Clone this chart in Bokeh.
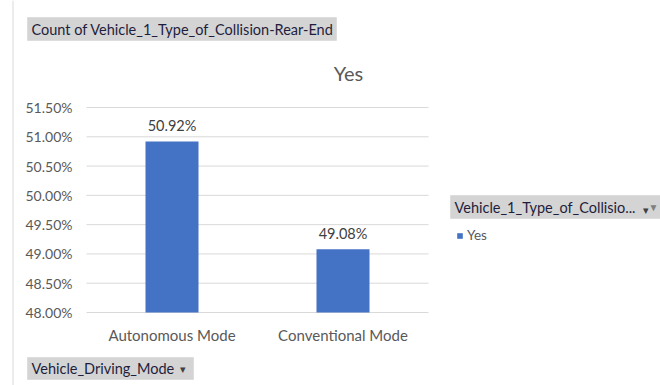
from bokeh.plotting import figure
from bokeh.models import (ColumnDataSource, Range1d, FixedTicker, LinearAxis,
                          CustomJSTickFormatter, LabelSet, Label, Legend, LegendItem,
                          BoxAnnotation, Span)
from bokeh.core.properties import value
from bokeh.embed import file_html
from bokeh.resources import INLINE

# ---- data ----
categories = ["Autonomous Mode", "Conventional Mode"]
series_name = "Yes"
values = [50.92, 49.08]
y_ticks = [48.0, 48.5, 49.0, 49.5, 50.0, 50.5, 51.0, 51.5]
pivot_value_field = "Count of Vehicle_1_Type_of_Collision-Rear-End"
pivot_axis_field = "Vehicle_Driving_Mode"
pivot_legend_field = "Vehicle_1_Type_of_Collisio..."

FONT = "Lato"
W, H = 660, 385
FL, FR, FT, FB = 86, 428, 107, 312  # plot area in px
n = len(categories)
SX = (FR - FL) / n
SY = (FB - FT) / (y_ticks[-1] - y_ticks[0])

def dx(px):
    return (px - FL) / SX

def dy(py):
    return y_ticks[-1] - (py - FT) / SY

p = figure(x_range=Range1d(dx(0), dx(W)), y_range=Range1d(dy(H), dy(0)),
           width=W, height=H, output_backend="svg", toolbar_location=None,
           x_axis_location=None, y_axis_location=None,
           min_border=0, min_border_left=0, min_border_right=0,
           min_border_top=0, min_border_bottom=0)
p.outline_line_color = None
p.background_fill_color = "white"
p.border_fill_color = "white"
p.grid.visible = False

xpos = [i + 0.5 for i in range(n)]

# gridlines at the tick values across the category span
p.segment(x0=[0] * len(y_ticks), x1=[n] * len(y_ticks), y0=y_ticks, y1=y_ticks,
          line_color="#d9d9d9", line_width=1)

yaxis = LinearAxis(fixed_location=0, ticker=FixedTicker(ticks=y_ticks),
                   formatter=CustomJSTickFormatter(code="return tick.toFixed(2) + '%';"))
xaxis = LinearAxis(fixed_location=y_ticks[0], ticker=FixedTicker(ticks=xpos),
                   major_label_overrides={x: c for x, c in zip(xpos, categories)})
for ax in (xaxis, yaxis):
    ax.axis_line_color = None
    ax.major_tick_line_color = None
    ax.minor_tick_line_color = None
    ax.major_tick_out = 0
    ax.major_tick_in = 0
    ax.major_label_text_font = FONT
    ax.major_label_text_color = "#595959"
yaxis.major_label_text_font_size = "14px"
yaxis.major_label_standoff = 14
xaxis.major_label_text_font_size = "15px"
xaxis.major_label_standoff = 13
p.add_layout(yaxis, "left")
p.add_layout(xaxis, "below")

src = ColumnDataSource(dict(x=xpos, cat=categories, val=values,
                            lab=[f"{v:.2f}%" for v in values]))
r = p.vbar(x="x", top="val", bottom=y_ticks[0], width=0.31,
           fill_color="#4472C4", line_color=None, source=src)

p.add_layout(LabelSet(x="x", y="val", text="lab", source=src,
                      text_align="center", text_baseline="bottom", y_offset=7,
                      text_font=value(FONT), text_font_size=value("14.5px"),
                      text_color=value("#404040")))

# left border of the chart area
p.add_layout(Span(location=dx(12.5), dimension="height", line_color="#d9d9d9",
                  line_width=1))

# chart title
p.add_layout(Label(x=dx(348), y=dy(72), text=series_name, text_align="center",
                   text_baseline="middle", text_font=FONT, text_font_size="20px",
                   text_color="#595959"))

def button(x0, x1, y0, y1):
    return BoxAnnotation(left=dx(x0), right=dx(x1), top=dy(y0), bottom=dy(y1),
                         fill_color="#d4d4d4", fill_alpha=1,
                         line_color="#c4c4c4", line_width=1)

def btext(x, y, text, size="14.5px", color="#1e1e3c", align="left"):
    return Label(x=dx(x), y=dy(y), text=text, text_align=align,
                 text_baseline="middle", text_font=FONT, text_font_size=size,
                 text_color=color)

p.add_layout(button(27, 336, 17, 40))
p.add_layout(btext(31, 28.5, pivot_value_field))
p.add_layout(button(27, 193, 357, 379))
p.add_layout(btext(31, 368, pivot_axis_field))
p.add_layout(btext(182, 368, "\u25be", size="11px", color="#404040", align="center"))
p.add_layout(button(450, 661, 195, 218))
p.add_layout(btext(454, 206.5, pivot_legend_field))
p.add_layout(btext(645, 209, "\u25be", size="11px", color="#404040", align="center"))
p.add_layout(btext(653, 206, "\u25bc", size="10px", color="#7f7f7f", align="center"))

legend = Legend(items=[LegendItem(label=series_name, renderers=[r])],
                location=(456, H - 243), orientation="vertical",
                glyph_width=7, glyph_height=7, label_text_font=FONT,
                label_text_font_size="13.5px", label_text_color="#595959",
                border_line_color=None, background_fill_alpha=0,
                padding=0, margin=0, spacing=0, label_standoff=4)
p.add_layout(legend)

open("out.html", "w").write(file_html(p, INLINE))
